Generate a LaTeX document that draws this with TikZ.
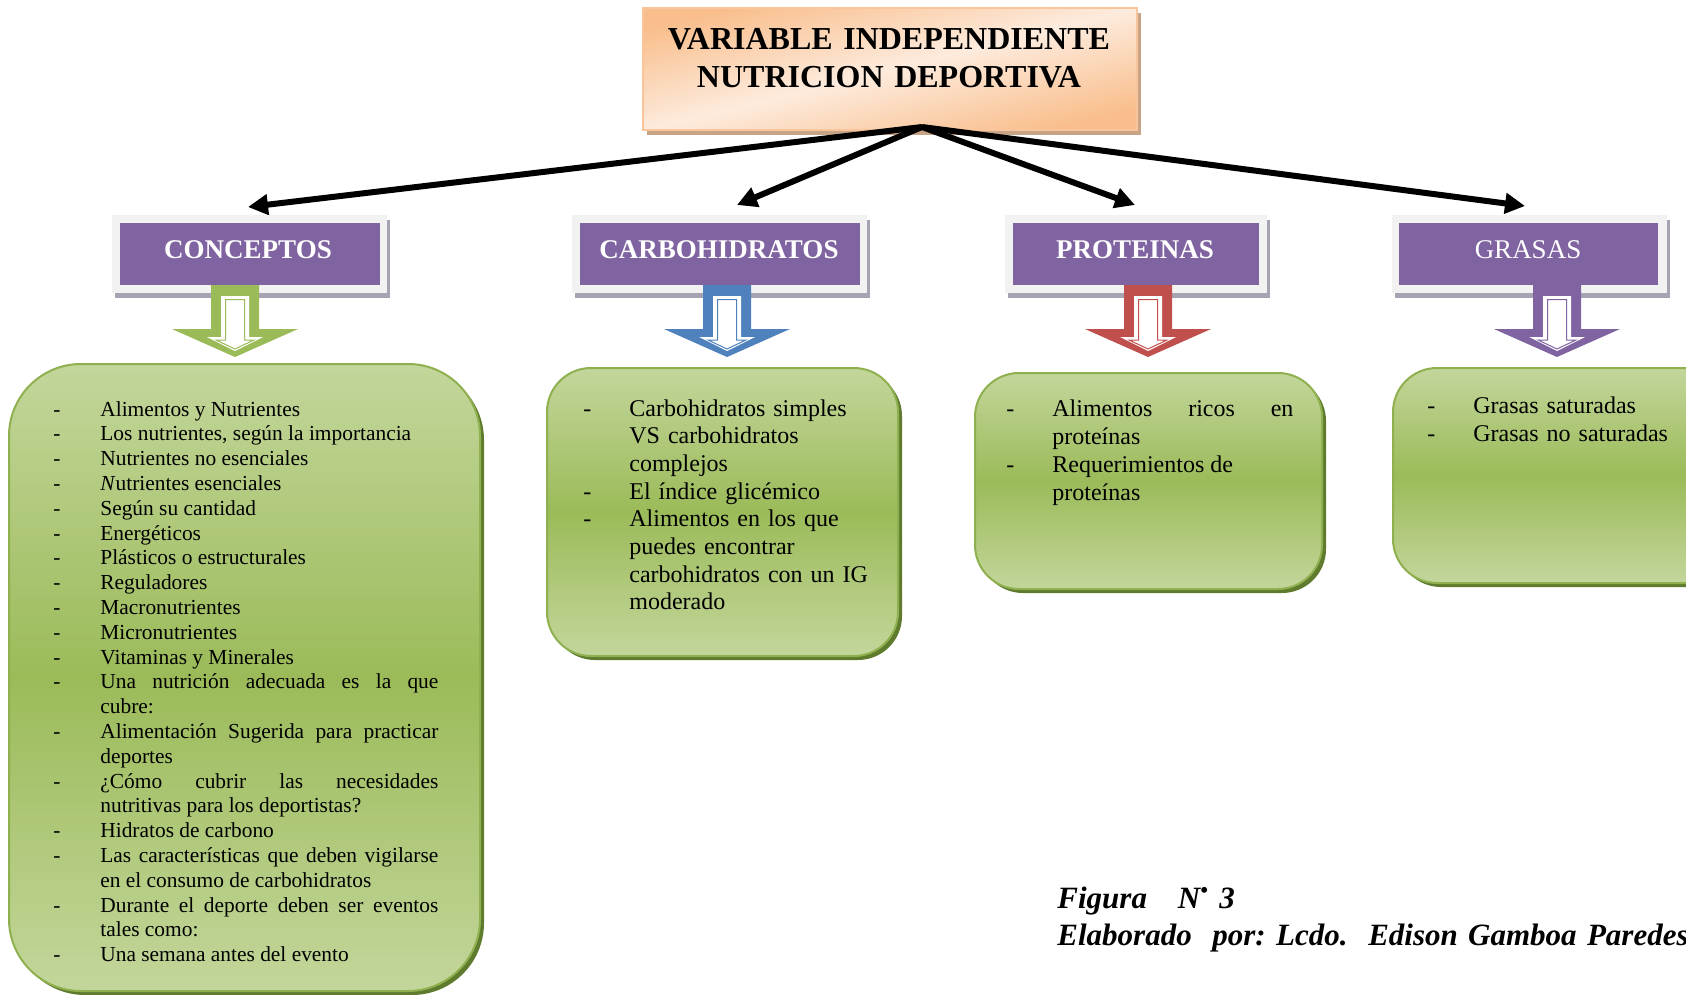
\documentclass[tikz,border=0pt]{standalone}
\usepackage{fontspec}
\setmainfont{Liberation Serif}
\usetikzlibrary{arrows.meta,shadows}
\definecolor{pur}{HTML}{8064A2}
\definecolor{frm}{HTML}{F2F2F2}
\definecolor{frmsh}{HTML}{A7A3B3}
\definecolor{glight}{HTML}{C3D69B}
\definecolor{gmid}{HTML}{9BBB59}
\definecolor{gborder}{HTML}{8FB04F}
\definecolor{gshadow}{HTML}{5F7B2E}
\definecolor{odark}{HTML}{F9BE8C}
\definecolor{olight}{HTML}{FDEBDD}
\definecolor{oborder}{HTML}{F9C59C}
\definecolor{oshadow}{HTML}{C8A486}
\definecolor{ablue}{HTML}{4F81BD}
\definecolor{ared}{HTML}{C0504D}
\definecolor{agreen}{HTML}{9BBB59}
\definecolor{apurple}{HTML}{8064A2}
\newcommand\ditem[3]{\hangindent=#1\hangafter=1\noindent\makebox[#1][l]{\hspace*{#2}-}#3\par}
\newcommand\blockarrow[2]{%
  \fill[#2] (#1-24,285) -- (#1-24,329) -- (#1-63,329) -- (#1,357) -- (#1+63,329) -- (#1+24,329) -- (#1+24,285) -- cycle;
  \fill[white] (#1-14,296) -- (#1-14,337) -- (#1-28,337) -- (#1,351) -- (#1+28,337) -- (#1+14,337) -- (#1+14,296) -- cycle;
  \draw[#2, line width=0.5pt, fill=white] (#1-9.5,299.5) -- (#1-9.5,340) -- (#1-19,340) -- (#1,349) -- (#1+19,340) -- (#1+9.5,340) -- (#1+9.5,299.5) -- cycle;
}
\begin{document}
\begin{tikzpicture}[x=0.5pt,y=-0.5pt,
  titlebox/.style={draw=oborder, line width=0.8pt, top color=odark, bottom color=odark, middle color=olight, shading angle=14, inner sep=0pt, drop shadow={shadow xshift=2pt, shadow yshift=-2.5pt, fill=oshadow, opacity=1}},
  framebox/.style={fill=frm, inner sep=0pt, drop shadow={shadow xshift=1.5pt, shadow yshift=-2.5pt, fill=frmsh, opacity=1}},
  purbox/.style={fill=pur, inner sep=0pt, minimum height=31pt},
  lab/.style={anchor=base, inner sep=0pt, text=white, font=\fontsize{13.5}{16}\selectfont\bfseries},
  gbox/.style={draw=gborder, line width=1pt, top color=glight, bottom color=glight, middle color=gmid, inner sep=0pt, drop shadow={shadow xshift=2pt, shadow yshift=-2pt, fill=gshadow, opacity=1}},
  conn/.style={line width=3pt, -{Triangle[length=10pt,width=10pt]}},
  listtext/.style={anchor=base west, inner sep=0pt}
]
\useasboundingbox (0,0) rectangle (1686,995);
\clip (0,0) rectangle (1686,995);
\fill[white] (0,0) rectangle (1686,995);

% title
\node[titlebox, minimum width=247pt, minimum height=61pt] (title) at (890,69) {};
\node[anchor=base, inner sep=0pt, text width=240pt, align=center, font=\fontsize{16}{19}\selectfont\bfseries] (titletext) at (889,50) {VARIABLE INDEPENDIENTE\\NUTRICION DEPORTIVA};

% connectors
\coordinate (apex) at (922,127);
\coordinate (t1) at (248,207);
\coordinate (t2) at (737,205);
\coordinate (t3) at (1135,205);
\coordinate (t4) at (1525,206);
\draw[conn] (apex) -- (t1);
\draw[conn] (apex) -- (t2);
\draw[conn] (apex) -- (t3);
\draw[conn] (apex) -- (t4);

% category frames
\node[framebox, minimum width=137.5pt, minimum height=39pt] (f1) at (249.5,254) {};
\node[framebox, minimum width=147.5pt, minimum height=39pt] (f2) at (719.5,254) {};
\node[framebox, minimum width=131pt, minimum height=39pt] (f3) at (1136,254) {};
\node[framebox, minimum width=137.5pt, minimum height=39pt] (f4) at (1529.5,254) {};
\node[purbox, minimum width=130pt] (p1) at (250,254) {};
\node[purbox, minimum width=140pt] (p2) at (720,254) {};
\node[purbox, minimum width=123pt] (p3) at (1136,254) {};
\node[purbox, minimum width=129.5pt] (p4) at (1528.5,254) {};
\node[lab] (l1) at (248,258) {CONCEPTOS};
\node[lab] (l2) at (719,258) {CARBOHIDRATOS};
\node[lab] (l3) at (1135,258) {PROTEINAS};
\node[lab, font=\fontsize{13.5}{16}\selectfont] (l4) at (1528,258) {GRASAS};

% block arrows
\blockarrow{235}{agreen}
\blockarrow{727}{ablue}
\blockarrow{1148}{ared}
\blockarrow{1557}{apurple}

% green boxes
\node[gbox, rounded corners=36pt, minimum width=235.5pt, minimum height=313.5pt] (g1) at (244.5,677.5) {};
\node[gbox, rounded corners=22pt, minimum width=175.5pt, minimum height=144pt] (g2) at (722.5,512) {};
\node[gbox, rounded corners=22pt, minimum width=173.5pt, minimum height=108pt] (g3) at (1148.5,481) {};
\node[gbox, rounded corners=22pt, minimum width=168.5pt, minimum height=107.5pt] (g4) at (1561.5,475.5) {};

% texts
\node[listtext, text width=194pt, align=justify, font=\fontsize{10.7}{12.4}\selectfont] (c1) at (50,416) {%
\hyphenpenalty=10000
\ditem{25pt}{1.5pt}{Alimentos y Nutrientes}%
\ditem{25pt}{1.5pt}{Los nutrientes, según la importancia}%
\ditem{25pt}{1.5pt}{Nutrientes no esenciales}%
\ditem{25pt}{1.5pt}{\textit{N}utrientes esenciales}%
\ditem{25pt}{1.5pt}{Según su cantidad}%
\ditem{25pt}{1.5pt}{Energéticos}%
\ditem{25pt}{1.5pt}{Plásticos o estructurales}%
\ditem{25pt}{1.5pt}{Reguladores}%
\ditem{25pt}{1.5pt}{Macronutrientes}%
\ditem{25pt}{1.5pt}{Micronutrientes}%
\ditem{25pt}{1.5pt}{Vitaminas y Minerales}%
\ditem{25pt}{1.5pt}{Una nutrición adecuada es la que \linebreak cubre:}%
\ditem{25pt}{1.5pt}{Alimentación Sugerida para practicar \linebreak deportes}%
\ditem{25pt}{1.5pt}{¿Cómo cubrir las necesidades \linebreak nutritivas para los deportistas?}%
\ditem{25pt}{1.5pt}{Hidratos de carbono}%
\ditem{25pt}{1.5pt}{Las características que deben vigilarse \linebreak en el consumo de carbohidratos}%
\ditem{25pt}{1.5pt}{Durante el deporte deben ser eventos \linebreak tales como:}%
\ditem{25pt}{1.5pt}{Una semana antes del evento}};

\node[listtext, text width=150pt, align=left, font=\fontsize{12}{13.85}\selectfont] (c2) at (580,416) {%
\ditem{24.5pt}{1.5pt}{Carbohidratos simples\newline VS carbohidratos\newline complejos}%
\ditem{24.5pt}{1.5pt}{El índice glicémico}%
\ditem{24.5pt}{1.5pt}{Alimentos en los que\newline puedes encontrar\newline carbohidratos con un IG\newline moderado}};

\node[listtext, text width=145pt, align=justify, font=\fontsize{12}{14}\selectfont] (c3) at (1003,416) {%
\hyphenpenalty=10000
\ditem{24.5pt}{1.5pt}{Alimentos ricos en \linebreak proteínas}%
\ditem{24.5pt}{1.5pt}{Requerimientos de\newline proteínas}};

\node[listtext, text width=130pt, align=left, font=\fontsize{12}{14}\selectfont] (c4) at (1424,413) {%
\ditem{24.5pt}{1.5pt}{Grasas saturadas}%
\ditem{24.5pt}{1.5pt}{Grasas no saturadas}};

% caption
\node[anchor=base west, inner sep=0pt, text width=330pt, align=left, font=\fontsize{15.5}{18.5}\selectfont\bfseries\itshape] (fig) at (1057,908) {\frenchspacing Figura\ \ \ N\textsuperscript{•} 3\\Elaborado\ \ por: Lcdo.\ \ Edison Gamboa Paredes};
\end{tikzpicture}
\end{document}
